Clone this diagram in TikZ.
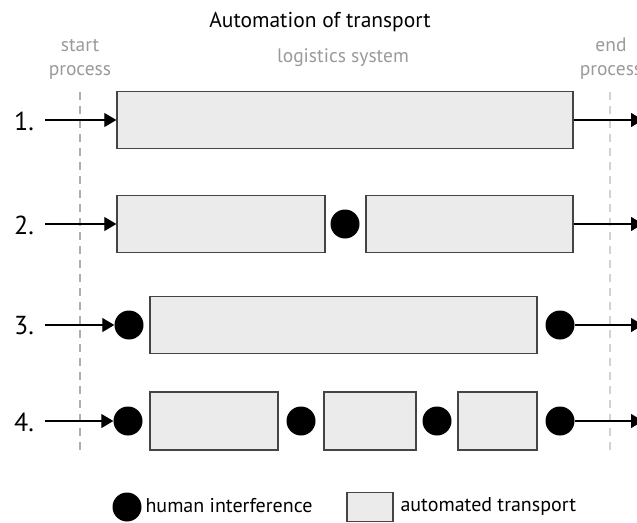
\documentclass[tikz,border=0pt]{standalone}
\usepackage{fontspec}
\setmainfont{PT Sans}
\usetikzlibrary{arrows.meta}
\definecolor{boxfill}{HTML}{EBEBEB}
\definecolor{boxline}{HTML}{444444}
\definecolor{softgray}{HTML}{9A9A9A}
\tikzset{
  stage/.style={draw=boxline, line width=1.4pt, fill=boxfill, inner sep=0pt, minimum height=57pt},
  human/.style={circle, fill=black, inner sep=0pt, minimum size=29pt},
  flow/.style={line width=1.3pt, -{Triangle[length=12pt,width=14pt]}},
  rowlabel/.style={font=\fontsize{26}{26}\selectfont, anchor=west, inner sep=0pt},
  note/.style={font=\fontsize{19.5}{24}\selectfont, text=softgray, align=center},
  legendtext/.style={font=\fontsize{20}{20}\selectfont, anchor=west},
}
\begin{document}
\begin{tikzpicture}[x=1pt,y=-1pt]
\useasboundingbox (0,0) rectangle (637,522);

% heading and column notes
\node[font=\fontsize{21.5}{21.5}\selectfont] (title) at (320,22) {Automation of transport};
\node[note] (startnote) at (80,59) {start\\process};
\node[note] (sysnote) at (343,58) {logistics system};
\node[note] (endnote) at (611,59) {end\\process};

% process boundaries
\draw[softgray!80, line width=1.2pt, dash pattern=on 8pt off 6pt] (80,92) -- (80,452);
\draw[softgray!45, line width=1.2pt, dash pattern=on 8pt off 6pt] (610,92) -- (610,452);

% row labels
\node[rowlabel] (l1) at (14,121) {1.};
\node[rowlabel] (l2) at (14,225) {2.};
\node[rowlabel] (l3) at (14,326) {3.};
\node[rowlabel] (l4) at (14,422) {4.};

% entry and exit points
\coordinate (in1) at (45,120);
\coordinate (in2) at (45,224);
\coordinate (in3) at (45,325);
\coordinate (in4) at (45,421);
\coordinate (out1) at (643,120);
\coordinate (out2) at (643,224);
\coordinate (out3) at (643,325);
\coordinate (out4) at (643,421);

% row 1: fully automated
\node[stage, minimum width=456pt] (a1) at (345,120) {};
\draw[flow] (in1) -- (a1.west);
\draw[flow] (a1.east) -- (out1);

% row 2: one hand-over in the middle
\node[stage, minimum width=208pt] (a2) at (221,224) {};
\node[human] (h2) at (345,224) {};
\node[stage, minimum width=207pt] (b2) at (469.5,224) {};
\draw[flow] (in2) -- (a2.west);
\draw[flow] (b2.east) -- (out2);

% row 3: manual start and end
\node[human] (h3a) at (129,325) {};
\node[stage, minimum width=387pt] (a3) at (343.5,325) {};
\node[human] (h3b) at (560,325) {};
\draw[flow] (in3) -- (h3a.west);
\draw[flow] (h3b.east) -- (out3);

% row 4: manual steps between short automated legs
\node[human] (h4a) at (128,421) {};
\node[stage, minimum width=128pt, minimum height=58pt] (a4) at (214,421) {};
\node[human] (h4b) at (301,421) {};
\node[stage, minimum width=92pt, minimum height=58pt] (b4) at (370,421) {};
\node[human] (h4c) at (437,421) {};
\node[stage, minimum width=79pt, minimum height=58pt] (c4) at (497.5,421) {};
\node[human] (h4d) at (560,421) {};
\draw[flow] (in4) -- (h4a.west);
\draw[flow] (h4d.east) -- (out4);

% legend
\node[human] (keyh) at (127,507) {};
\node[legendtext] (keyhtext) at (142,506) {human interference};
\node[stage, minimum width=46pt, minimum height=29pt] (keyb) at (370,507) {};
\node[legendtext] (keybtext) at (397,506) {automated transport};
\end{tikzpicture}
\end{document}
